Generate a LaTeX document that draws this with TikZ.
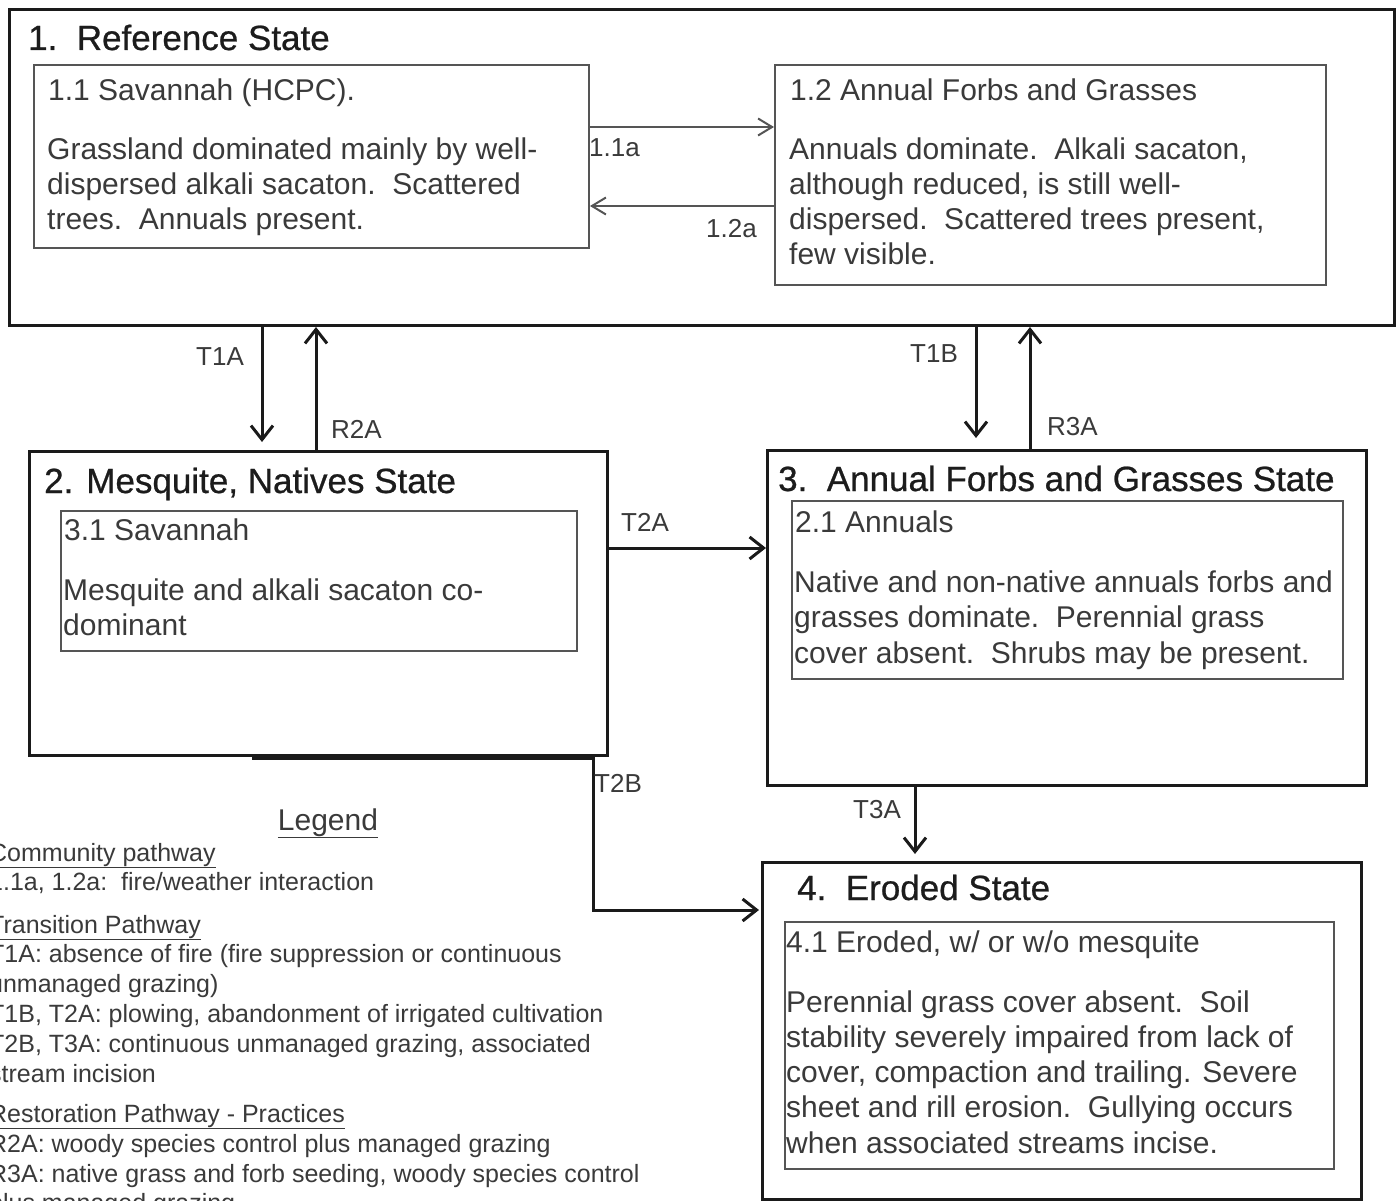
\documentclass[tikz,border=0pt]{standalone}
\usepackage{fontspec}
\setmainfont{Liberation Sans}
\newfontfamily\ttlfont[FakeBold=0.7]{Liberation Sans}
\usetikzlibrary{arrows.meta,calc}
\definecolor{cTxt}{HTML}{3A3A3A}
\definecolor{cTtl}{HTML}{1C1C1C}
\definecolor{cLn}{HTML}{1A1A1A}
\definecolor{cIn}{HTML}{555555}
\tikzset{
  outerbox/.style={draw=cLn, line width=3pt, anchor=north west, inner sep=0pt},
  innerbox/.style={draw=cIn, line width=2pt, anchor=north west, inner sep=0pt},
  statetitle/.style={anchor=base west, inner sep=0pt, text=cTtl, font=\ttlfont\fontsize{35}{40}\selectfont},
  bodytext/.style={anchor=base west, inner sep=0pt, text=cTxt, font=\fontsize{30}{35}\selectfont},
  lbl/.style={anchor=base west, inner sep=0pt, text=cTxt, font=\fontsize{26}{30}\selectfont},
  legtext/.style={anchor=base west, inner sep=0pt, text=cTxt, font=\fontsize{25}{30}\selectfont},
  thickarr/.style={draw=cLn, line width=3pt, -{Straight Barb[length=14pt,width=22pt]}},
  thinarr/.style={draw=cIn, line width=2pt, -{Straight Barb[length=14pt,width=17pt]}},
}
\begin{document}
\begin{tikzpicture}[x=1pt,y=-1pt]
\useasboundingbox (0,0) rectangle (1398,1201);
\clip (0,0) rectangle (1398,1201);
\fill[white] (0,0) rectangle (1398,1201);

% ---------- State boxes ----------
\node[outerbox, minimum width=1385pt, minimum height=316pt] (ref) at (8,8) {};
\node[innerbox, minimum width=555pt, minimum height=183pt] (s11) at (33,64) {};
\node[innerbox, minimum width=551pt, minimum height=220pt] (s12) at (774,64) {};

\node[outerbox, minimum width=578pt, minimum height=304pt] (mes) at (28,450) {};
\node[innerbox, minimum width=516pt, minimum height=140pt] (s31) at (60,510) {};

\node[outerbox, minimum width=599pt, minimum height=335pt] (ann) at (766,449) {};
\node[innerbox, minimum width=551pt, minimum height=178pt] (s21) at (791,500) {};

\node[outerbox, minimum width=599pt, minimum height=337pt] (ero) at (761,861) {};
\node[innerbox, minimum width=549pt, minimum height=247pt] (s41) at (784,921) {};

% ---------- Titles ----------
\node[statetitle] (t1) at (28,50) {1.\ \ Reference State};
\node[statetitle] (t2) at (44,493) {2. Mesquite, Natives State};
\node[statetitle] (t3) at (778,491) {3.\ \ Annual Forbs and Grasses State};
\node[statetitle] (t4) at (797,900) {4.\ \ Eroded State};

% ---------- Community texts ----------
\node[bodytext] (h11) at (48,101) {1.1 Savannah (HCPC).};
\foreach \t [count=\i] in {{Grassland dominated mainly by well-},{dispersed alkali sacaton.\ \ Scattered},{trees.\ \ Annuals present.}}
  \node[bodytext] (b11-\i) at (47,{160+35*(\i-1)}) {\t};

\node[bodytext] (h12) at (790,101) {1.2 Annual Forbs and Grasses};
\foreach \t [count=\i] in {{Annuals dominate.\ \ Alkali sacaton,},{although reduced, is still well-},{dispersed.\ \ Scattered trees present,},{few visible.}}
  \node[bodytext] (b12-\i) at (789,{160+35*(\i-1)}) {\t};

\node[bodytext] (h31) at (64,540) {3.1 Savannah};
\foreach \t [count=\i] in {{Mesquite and alkali sacaton co-},{dominant}}
  \node[bodytext] (b31-\i) at (63,{600+35*(\i-1)}) {\t};

\node[bodytext] (h21) at (795,532) {2.1 Annuals};
\foreach \t [count=\i] in {{Native and non-native annuals forbs and},{grasses dominate.\ \ Perennial grass},{cover absent.\ \ Shrubs may be present.}}
  \node[bodytext] (b21-\i) at (794,{592+35.5*(\i-1)}) {\t};

\node[bodytext] (h41) at (786,952) {4.1 Eroded, w/ or w/o mesquite};
\foreach \t [count=\i] in {{Perennial grass cover absent.\ \ Soil},{stability severely impaired from lack of},{cover, compaction and trailing. Severe},{sheet and rill erosion.\ \ Gullying occurs},{when associated streams incise.}}
  \node[bodytext] (b41-\i) at (786,{1012+35.3*(\i-1)}) {\t};

% ---------- Connector positions ----------
\coordinate (y11a) at (0,127);
\coordinate (y12a) at (0,206);
\coordinate (xT1A) at (262,0);
\coordinate (xR2A) at (316,0);
\coordinate (xT1B) at (976,0);
\coordinate (xR3A) at (1030,0);
\coordinate (yT2A) at (0,548);
\coordinate (xT3A) at (915,0);
\coordinate (xT2B) at (593,0);
\coordinate (yT2B) at (0,910);
\coordinate (x2Bs) at (252,0);
\coordinate (t2bstart) at ($(x2Bs |- mes.south)+(0,1.2)$);

% ---------- Connectors ----------
\draw[thinarr] (s11.east |- y11a) -- (s12.west |- y11a);
\draw[thinarr] (s12.west |- y12a) -- (s11.east |- y12a);

\draw[thickarr, shorten >=8pt] (xT1A |- ref.south) -- (xT1A |- mes.north);
\draw[thickarr] (xR2A |- mes.north) -- (xR2A |- ref.south);
\draw[thickarr, shorten >=11pt] (xT1B |- ref.south) -- (xT1B |- ann.north);
\draw[thickarr] (xR3A |- ann.north) -- (xR3A |- ref.south);
\draw[thickarr] (mes.east |- yT2A) -- (ann.west |- yT2A);
\draw[thickarr, shorten >=7pt] (xT3A |- ann.south) -- (xT3A |- ero.north);
\draw[thickarr, shorten >=2pt] (t2bstart) -- (xT2B |- t2bstart) -- (xT2B |- yT2B) -- (ero.west |- yT2B);

% ---------- Connector labels ----------
\node[lbl] (l11a) at (589,157) {1.1a};
\node[lbl, anchor=base east] (l12a) at (757,238) {1.2a};
\node[lbl] (lT1A) at (196,365) {T1A};
\node[lbl] (lR2A) at (331,438) {R2A};
\node[lbl] (lT1B) at (910,362) {T1B};
\node[lbl] (lR3A) at (1047,435) {R3A};
\node[lbl] (lT2A) at (621,531) {T2A};
\node[lbl] (lT3A) at (853,818) {T3A};
\node[lbl] (lT2B) at (594,792) {T2B};

% ---------- Legend ----------
\node[legtext, anchor=base, font=\fontsize{30}{34}\selectfont] (leg) at (328,830) {\underline{Legend}};
\node[legtext] (lg1) at (-11,861) {\underline{Community pathway}};
\node[legtext] (lg2) at (-11,890) {1.1a, 1.2a:\ \ fire/weather interaction};
\node[legtext] (lg3) at (-11,933) {\underline{Transition Pathway}};
\node[legtext] (lg4) at (-11,962) {T1A: absence of fire (fire suppression or continuous};
\node[legtext] (lg5) at (-11,992) {unmanaged grazing)};
\node[legtext] (lg6) at (-11,1022) {T1B, T2A: plowing, abandonment of irrigated cultivation};
\node[legtext] (lg7) at (-11,1052) {T2B, T3A: continuous unmanaged grazing, associated};
\node[legtext] (lg8) at (-11,1082) {stream incision};
\node[legtext] (lg9) at (-11,1122) {\underline{Restoration Pathway - Practices}};
\node[legtext] (lg10) at (-11,1152) {R2A: woody species control plus managed grazing};
\node[legtext] (lg11) at (-11,1182) {R3A: native grass and forb seeding, woody species control};
\node[legtext] (lg12) at (-11,1211) {plus managed grazing};
\end{tikzpicture}
\end{document}
